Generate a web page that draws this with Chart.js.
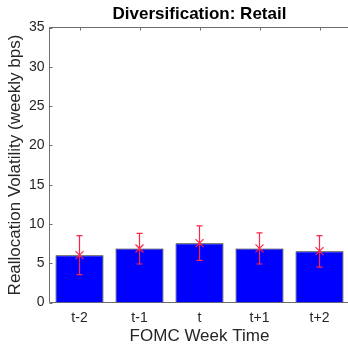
<!DOCTYPE html>
<html>
<head>
<meta charset="utf-8">
<script src="https://cdn.jsdelivr.net/npm/chart.js@4.4.0/dist/chart.umd.min.js"></script>
<style>
  html, body { margin: 0; padding: 0; background: #fff; overflow: hidden; }
  #wrap { width: 348px; height: 345px; overflow: hidden; }
</style>
</head>
<body>
<div id="wrap"><canvas id="chart" width="352" height="345"></canvas></div>
<script>
// Retail diversification around FOMC weeks
const weeks = ['t-2', 't-1', 't', 't+1', 't+2'];
const volatility = [6.02, 6.87, 7.55, 6.88, 6.53];
const errLow = [3.55, 4.9, 5.35, 4.9, 4.5];
const errHigh = [8.5, 8.8, 9.75, 8.85, 8.5];
const yTicks = [0, 5, 10, 15, 20, 25, 30, 35];

const axisColor = '#6e6e6e';
const textColor = '#262626';
const fontFamily = 'Liberation Sans, Arial, sans-serif';

// axis lines (left, top, bottom) with inward tick marks, drawn under the bars
const framePlugin = {
    id: 'frame',
    beforeDatasetsDraw(chart) {
        const { ctx, chartArea: a, scales } = chart;
        ctx.save();
        ctx.strokeStyle = axisColor;
        ctx.lineWidth = 1;
        ctx.beginPath();
        ctx.moveTo(a.right, a.top); ctx.lineTo(a.left, a.top);
        ctx.lineTo(a.left, a.bottom); ctx.lineTo(a.right, a.bottom);
        yTicks.forEach(v => {
            const y = Math.round(scales.y.getPixelForValue(v)) + 0.5;
            ctx.moveTo(a.left, y); ctx.lineTo(a.left + 3, y);
        });
        weeks.forEach((w, i) => {
            const x = Math.round(scales.x.getPixelForValue(i)) + 0.5;
            ctx.moveTo(x, a.top); ctx.lineTo(x, a.top + 3);
            ctx.moveTo(x, a.bottom); ctx.lineTo(x, a.bottom - 3);
        });
        ctx.stroke();
        ctx.restore();
    }
};

// red error bars with a cross marker at the mean
const errorBarPlugin = {
    id: 'errorBars',
    afterDatasetsDraw(chart) {
        const { ctx, scales } = chart;
        ctx.save();
        ctx.strokeStyle = '#ff2445';
        ctx.lineWidth = 1.2;
        volatility.forEach((v, i) => {
            const x = scales.x.getPixelForValue(i);
            const yLo = scales.y.getPixelForValue(errLow[i]);
            const yHi = scales.y.getPixelForValue(errHigh[i]);
            const yM = scales.y.getPixelForValue(v);
            ctx.beginPath();
            ctx.moveTo(x, yLo); ctx.lineTo(x, yHi);
            ctx.moveTo(x - 3, yLo); ctx.lineTo(x + 3, yLo);
            ctx.moveTo(x - 3, yHi); ctx.lineTo(x + 3, yHi);
            ctx.moveTo(x - 4, yM - 4); ctx.lineTo(x + 4, yM + 4);
            ctx.moveTo(x - 4, yM + 4); ctx.lineTo(x + 4, yM - 4);
            ctx.stroke();
        });
        ctx.restore();
    }
};

new Chart(document.getElementById('chart').getContext('2d'), {
    type: 'bar',
    data: {
        labels: weeks,
        datasets: [{
            data: volatility,
            backgroundColor: '#0000ff',
            borderColor: '#1a1a1a',
            borderWidth: 1,
            categoryPercentage: 1,
            barPercentage: 0.8
        }]
    },
    options: {
        responsive: false,
        animation: false,
        layout: { padding: { left: 0, right: 2.5, top: 0, bottom: 0 } },
        plugins: {
            legend: { display: false },
            tooltip: { enabled: false },
            title: {
                display: true,
                fullSize: false,
                text: 'Diversification: Retail',
                color: '#000',
                font: { family: fontFamily, size: 17, weight: 'bold', lineHeight: 1.2 },
                padding: { top: 4.5, bottom: 2.6 }
            }
        },
        scales: {
            x: {
                grid: { display: false, drawTicks: false },
                border: { display: false },
                ticks: {
                    color: textColor,
                    padding: 7,
                    font: { family: fontFamily, size: 14 }
                },
                title: {
                    display: true,
                    text: 'FOMC Week Time',
                    color: textColor,
                    padding: 0,
                    font: { family: fontFamily, size: 17, lineHeight: 1 }
                },
                afterFit(scale) {
                    scale.height = 42.5;
                    scale.paddingLeft = 0;
                    scale.paddingRight = 0;
                }
            },
            y: {
                min: 0,
                max: 35,
                grid: { display: false, drawTicks: false },
                border: { display: false },
                afterBuildTicks(scale) { scale.ticks = yTicks.map(v => ({ value: v })); },
                ticks: {
                    color: textColor,
                    padding: 5,
                    font: { family: fontFamily, size: 14 }
                },
                title: {
                    display: true,
                    text: 'Reallocation Volatility (weekly bps)',
                    color: textColor,
                    padding: { top: 5.5, bottom: 0 },
                    font: { family: fontFamily, size: 17, lineHeight: 1.2 }
                },
                afterFit(scale) {
                    scale.width = 49.5;
                    scale.paddingTop = 0;
                    scale.paddingBottom = 0;
                }
            }
        }
    },
    plugins: [framePlugin, errorBarPlugin]
});
</script>
</body>
</html>
